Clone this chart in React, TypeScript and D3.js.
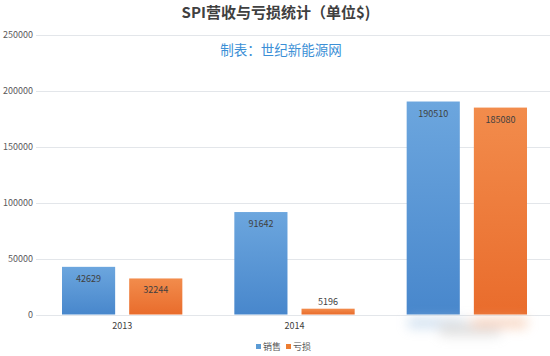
import React from "react";
import * as d3 from "d3";

const categories = ["2013", "2014", "2015"];
const xLabels = ["2013", "2014", ""];
const seriesNames = ["销售", "亏损"];
const sales = [42629, 91642, 190510];
const losses = [32244, 5196, 185080];
const yTicks = [0, 50000, 100000, 150000, 200000, 250000];
const title = "SPI营收与亏损统计（单位$)";
const subtitle = "制表：世纪新能源网";

const W = 550;
const H = 356;
const FONT = "'Noto Sans CJK SC', 'Noto Sans', sans-serif";

export default function App() {
  const x0 = d3.scaleBand().domain(categories).range([36, 553]).padding(0);
  const step = x0.step();
  const x1 = d3
    .scaleBand()
    .domain(seriesNames)
    .range([26, step - 26])
    .paddingInner(14 / 67)
    .paddingOuter(0);
  const y = d3.scaleLinear().domain([0, 250000]).range([314.5, 35]);
  const colors = ["url(#gBlue)", "url(#gOrange)"];
  const solid = ["#5b9bd5", "#ed7d31"];
  const seriesData = [sales, losses];

  return (
    <svg
      width={W}
      height={H}
      style={{ position: "absolute", left: 0, top: 0, background: "#fff" }}
      fontFamily={FONT}
    >
      <defs>
        <linearGradient id="gBlue" x1="0" y1="0" x2="0" y2="1">
          <stop offset="0%" stopColor="#6ca6de" />
          <stop offset="100%" stopColor="#4887cc" />
        </linearGradient>
        <linearGradient id="gOrange" x1="0" y1="0" x2="0" y2="1">
          <stop offset="0%" stopColor="#f28c4c" />
          <stop offset="100%" stopColor="#e96c2c" />
        </linearGradient>
        <filter id="blur" x="-50%" y="-100%" width="200%" height="300%">
          <feGaussianBlur stdDeviation="6" />
        </filter>
      </defs>

      <text x={276} y={18} textAnchor="middle" fontSize={15} fontWeight="bold" fill="#404040">
        {title}
      </text>
      <text x={281} y={55} textAnchor="middle" fontSize={13.5} fill="#3b8fd6">
        {subtitle}
      </text>

      {yTicks.map((t) => (
        <g key={t}>
          <line x1={36} x2={550} y1={Math.round(y(t)) + 0.5} y2={Math.round(y(t)) + 0.5} stroke="#e3e6ea" strokeWidth={1} />
          <text x={33} y={y(t) + 3} textAnchor="end" fontSize={9} fill="#595959">
            {t}
          </text>
        </g>
      ))}

      {categories.map((c, i) => (
        <g key={c} transform={`translate(${x0(c)},0)`}>
          {seriesNames.map((s, j) => {
            const v = seriesData[j][i];
            const bx = x1(s) as number;
            const bw = x1.bandwidth();
            const top = y(v);
            const h = y(0) - top;
            const inside = h > 25;
            return (
              <g key={s}>
                <rect x={bx} y={top} width={bw} height={h} fill={colors[j]} />
                <text
                  x={bx + bw / 2}
                  y={inside ? top + 15 : top - 4}
                  textAnchor="middle"
                  fontSize={9}
                  fill="#404040"
                >
                  {v}
                </text>
              </g>
            );
          })}
          <text x={step / 2} y={329} textAnchor="middle" fontSize={9} fill="#404040">
            {xLabels[i]}
          </text>
        </g>
      ))}

      <g filter="url(#blur)" opacity={0.55}>
        <rect x={408} y={318} width={55} height={10} fill="#a9c6e3" />
        <rect x={440} y={322} width={60} height={14} fill="#c8c8c8" />
        <rect x={472} y={318} width={55} height={10} fill="#f2b48f" />
      </g>

      <g transform="translate(0,347)">
        {seriesNames.map((s, j) => (
          <g key={s} transform={`translate(${256 + j * 30},0)`}>
            <rect x={0} y={-3} width={5} height={5} fill={solid[j]} />
            <text x={7} y={3} fontSize={9} fill="#595959">
              {s}
            </text>
          </g>
        ))}
      </g>
    </svg>
  );
}
